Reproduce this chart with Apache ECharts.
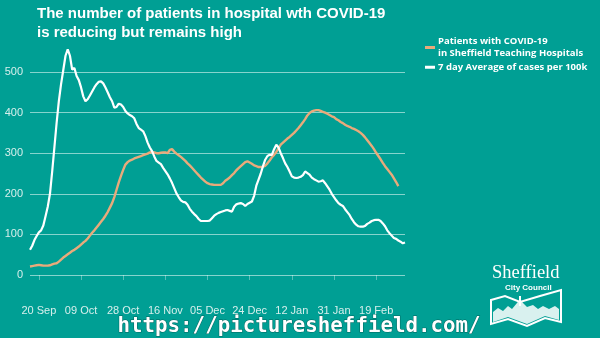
<!DOCTYPE html>
<html>
<head>
<meta charset="utf-8">
<script src="https://cdn.jsdelivr.net/npm/echarts@6/dist/echarts.min.js"></script>
<style>
html,body{margin:0;padding:0;background:#009e93;}
#c{width:600px;height:338px;}
</style>
</head>
<body>
<div id="c"></div>
<script>
// Dates: daily from 16 Sep to 4 Mar (170 days)
var startDate = [2020, 8, 16];
var dayCount = 170;
var tickLabels = ['20 Sep','09 Oct','28 Oct','16 Nov','05 Dec','24 Dec','12 Jan','31 Jan','19 Feb'];
var yTicks = [0,100,200,300,400,500];

var seriesNames = ['Patients with COVID-19\nin Sheffield Teaching Hospitals', '7 day Average of cases per 100k'];

var hospitalPatients = [
21,22,23,24,25,24,23,23,23,24,26,28,29,33,38,43,47,51,55,59,
62,66,70,75,80,84,90,97,104,110,117,124,131,138,146,155,166,177,192,210,
228,244,259,272,278,282,284,287,289,291,293,295,297,299,302,303,302,300,300,301,
302,302,300,308,310,304,299,295,291,286,281,275,270,264,258,252,246,240,235,230,
226,224,223,222,222,222,222,226,232,236,240,246,251,258,263,268,273,278,280,277,
274,270,268,266,266,267,269,275,282,290,296,303,312,321,326,331,336,340,345,350,
356,362,369,376,384,393,399,403,405,406,406,404,402,400,397,394,391,389,384,381,
377,374,370,367,365,362,360,357,354,350,345,339,332,325,318,310,301,293,285,276,
268,261,254,247,238,229,219,null,null,null
];

var casesPer100k = [
62,72,86,96,105,110,122,145,168,200,255,315,375,428,470,505,540,556,540,506,
510,490,480,462,440,428,433,442,452,462,470,476,477,472,462,450,438,428,412,414,
422,420,414,404,398,394,391,386,372,362,358,354,342,326,314,305,292,281,277,273,
264,256,248,238,227,214,201,192,184,180,179,173,163,156,150,145,138,133,133,133,
133,134,140,146,150,153,155,157,159,160,158,156,168,174,176,177,175,170,175,178,
181,195,220,235,250,268,284,293,296,296,310,321,314,300,288,275,266,255,243,240,
239,240,242,246,255,251,247,240,236,233,230,231,233,226,218,210,200,192,184,177,
173,170,162,155,148,138,130,124,120,119,119,121,126,129,133,135,136,136,133,127,
120,110,103,97,91,89,85,82,78,80
];

var months = ['Jan','Feb','Mar','Apr','May','Jun','Jul','Aug','Sep','Oct','Nov','Dec'];
var categories = [];
for (var i = 0; i < dayCount; i++) {
  var d = new Date(startDate[0], startDate[1], startDate[2] + i);
  var dd = d.getDate();
  categories.push((dd < 10 ? '0' + dd : '' + dd) + ' ' + months[d.getMonth()]);
}
function isTick(idx) { return tickLabels.indexOf(categories[idx]) >= 0; }

var chart = echarts.init(document.getElementById('c'), null, {renderer: 'canvas'});
var option = {
  backgroundColor: '#009f94',
  animation: false,
  title: {
    text: 'The number of patients in hospital wth COVID-19\nis reducing but remains high',
    left: 32, top: -1,
    textStyle: {color: '#ffffff', fontFamily: 'Liberation Sans', fontWeight: 'bold', fontSize: 15, lineHeight: 19.5}
  },
  legend: {
    orient: 'vertical',
    left: 420, top: 30,
    itemWidth: 10, itemHeight: 3, itemGap: 1,
    icon: 'rect',
    data: seriesNames,
    textStyle: {color: '#ffffff', fontFamily: 'Open Sans', fontWeight: 'bold', fontSize: 9.5, lineHeight: 12.5, padding: [0,0,0,-2]}
  },
  grid: {left: 30, right: 195, top: 72, bottom: 63, containLabel: false},
  xAxis: {
    type: 'category',
    data: categories,
    boundaryGap: false,
    offset: 16,
    axisLine: {show: false},
    axisTick: {show: true, interval: function (idx) { return isTick(idx); }, length: 5, lineStyle: {color: 'rgba(255,255,255,0.35)'}},
    axisLabel: {interval: function (idx) { return isTick(idx); }, color: '#d6efec', fontFamily: 'Liberation Sans', fontSize: 11, margin: 14},
    splitLine: {show: false}
  },
  yAxis: {
    type: 'value',
    min: yTicks[0], max: yTicks[yTicks.length - 1], interval: 100,
    axisLine: {show: false},
    axisTick: {show: false},
    axisLabel: {color: '#d6efec', fontFamily: 'Liberation Sans', fontSize: 11, margin: 7},
    splitLine: {lineStyle: {color: '#86d4cd', width: 1.2}}
  },
  series: [
    {
      name: seriesNames[0], type: 'line', data: hospitalPatients,
      showSymbol: false, clip: false, smooth: false,
      lineStyle: {color: '#e9aa7b', width: 2.4},
      itemStyle: {color: '#e9aa7b'}
    },
    {
      name: seriesNames[1], type: 'line', data: casesPer100k,
      showSymbol: false, clip: false, smooth: false,
      lineStyle: {color: '#ffffff', width: 2.2},
      itemStyle: {color: '#ffffff'}
    }
  ],
  graphic: [
    {type: 'text', left: 117, top: 316, style: {text: 'https://picturesheffield.com/', fill: '#ffffff', stroke: 'rgba(0,60,55,0.6)', lineWidth: 1, font: 'bold 20.8px "DejaVu Sans Mono"'}},
    {type: 'text', left: 492, top: 264, style: {text: 'Sheffield', fill: '#ffffff', font: '18.5px "Liberation Serif"'}},
    {type: 'text', left: 505, top: 284, style: {text: 'City Council', fill: '#ffffff', font: 'bold 8px "Liberation Sans"'}},
    {type: 'polygon', shape: {points: [[491,300],[505,296],[520,302],[540,296],[561,290],[561,322],[545,318],[527,326],[508,319],[491,324]]}, style: {fill: 'none', stroke: '#ffffff', lineWidth: 2}},
    {type: 'polygon', shape: {points: [[493,312],[498,308],[503,311],[508,306],[512,309],[517,303],[520,299],[523,303],[527,307],[533,305],[538,309],[543,306],[549,309],[555,306],[559,309],[559,320],[545,316],[527,324],[508,317],[493,322]]}, style: {fill: '#ffffff', opacity: 0.85}},
    {type: 'rect', shape: {x: 519, y: 296, width: 2, height: 10}, style: {fill: '#ffffff'}}
  ]
};
chart.setOption(option);
</script>
</body>
</html>
